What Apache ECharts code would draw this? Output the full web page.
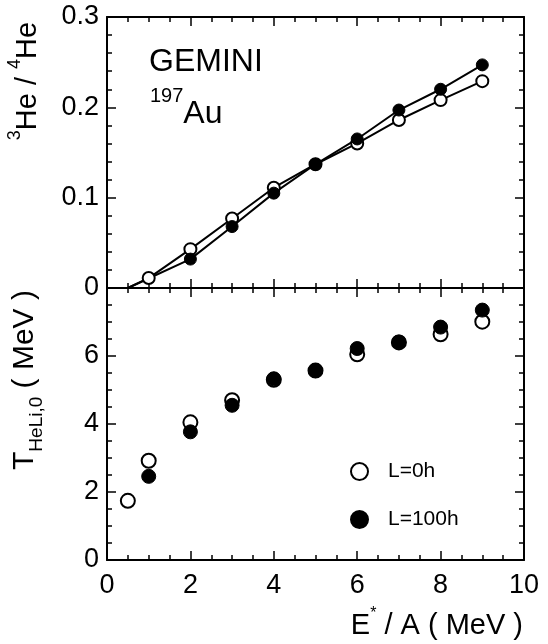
<!DOCTYPE html>
<html>
<head>
<meta charset="utf-8">
<script src="https://cdn.jsdelivr.net/npm/echarts@6/dist/echarts.min.js"></script>
<style>
html,body{margin:0;padding:0;background:#fff;}
#chart{width:548px;height:644px;}
</style>
</head>
<body>
<div id="chart"></div>
<script>
// ---- data ----
const eTop0 = [0.5, 1, 2, 3, 4, 5, 6, 7, 8, 9];
const ratioL0 = [0, 0.011, 0.043, 0.077, 0.111, 0.137, 0.160, 0.186, 0.208, 0.229];
const eTop100 = [0.5, 2, 3, 4, 5, 6, 7, 8, 9];
const ratioL100 = [0, 0.032, 0.068, 0.105, 0.137, 0.165, 0.197, 0.220, 0.247];
const eBot0 = [0.5, 1, 2, 3, 4, 5, 6, 7, 8, 9];
const tempL0 = [1.74, 2.92, 4.05, 4.70, 5.30, 5.57, 6.05, 6.40, 6.64, 7.01];
const eBot100 = [1, 2, 3, 4, 5, 6, 7, 8, 9];
const tempL100 = [2.46, 3.77, 4.55, 5.33, 5.57, 6.22, 6.41, 6.85, 7.35];
const legendNames = ['L=0h', 'L=100h'];

const FONT = "'Liberation Sans', Arial, Helvetica, sans-serif";

function pairs(xs, ys, hideFirst) {
  return xs.map((x, i) => {
    const d = { value: [x, ys[i]] };
    if (hideFirst && i === 0) d.symbol = 'none';
    return d;
  });
}

function xAx(grid, pos, showLabel) {
  return {
    type: 'value', gridIndex: grid, position: pos, min: 0, max: 10, interval: 2,
    axisLine: { show: true, onZero: false, lineStyle: { color: '#000', width: 2 } },
    axisTick: { show: true, inside: true, length: 9, lineStyle: { color: '#000', width: 1.5 } },
    minorTick: { show: true, splitNumber: 4, length: 5, lineStyle: { color: '#000', width: 1.5 } },
    splitLine: { show: false },
    axisLabel: { show: showLabel, color: '#000', fontSize: 27, fontFamily: FONT, margin: 12 }
  };
}
function yAx(grid, pos, min, max, interval, minorSplit, showLabel, fmt) {
  return {
    type: 'value', gridIndex: grid, position: pos, min: min, max: max, interval: interval,
    axisLine: { show: true, onZero: false, lineStyle: { color: '#000', width: 2 } },
    axisTick: { show: true, inside: true, length: 9, lineStyle: { color: '#000', width: 1.5 } },
    minorTick: { show: true, splitNumber: minorSplit, length: 5, lineStyle: { color: '#000', width: 1.5 } },
    splitLine: { show: false },
    axisLabel: { show: showLabel, color: '#000', fontSize: 27, fontFamily: FONT, margin: 8, formatter: fmt }
  };
}

const chart = echarts.init(document.getElementById('chart'), null, { renderer: 'canvas' });
const option = {
  backgroundColor: '#fff',
  animation: false,
  grid: [
    { left: 107, right: 24, top: 17, height: 271 },
    { left: 107, right: 24, top: 288, height: 272 }
  ],
  xAxis: [
    xAx(0, 'bottom', false),
    xAx(0, 'top', false),
    xAx(1, 'bottom', true),
    xAx(1, 'top', false)
  ],
  yAxis: [
    yAx(0, 'left', 0, 0.3, 0.1, 5, true, v => (Math.abs(v) < 1e-9 ? '0' : v.toFixed(1))),
    yAx(0, 'right', 0, 0.3, 0.1, 5, false),
    yAx(1, 'left', 0, 8, 2, 4, true, v => (v >= 8 ? '' : String(v))),
    yAx(1, 'right', 0, 8, 2, 4, false)
  ],
  legend: {
    data: legendNames,
    orient: 'vertical',
    left: 345, top: 456,
    itemWidth: 17, itemHeight: 17, itemGap: 27,
    itemStyle: { opacity: 1 },
    textStyle: { color: '#000', fontSize: 21, fontFamily: FONT, padding: [0, 0, 0, 15] }
  },
  series: [
    {
      name: 'top0', type: 'line', xAxisIndex: 0, yAxisIndex: 0,
      data: pairs(eTop0, ratioL0, true),
      symbol: 'circle', symbolSize: 12,
      lineStyle: { color: '#000', width: 2 },
      itemStyle: { color: '#fff', borderColor: '#000', borderWidth: 2, opacity: 1 }
    },
    {
      name: 'top100', type: 'line', xAxisIndex: 0, yAxisIndex: 0,
      data: pairs(eTop100, ratioL100, true),
      symbol: 'circle', symbolSize: 12,
      lineStyle: { color: '#000', width: 2 },
      itemStyle: { color: '#000', borderColor: '#000', borderWidth: 1, opacity: 1 }
    },
    {
      name: 'L=0h', type: 'scatter', xAxisIndex: 2, yAxisIndex: 2,
      data: pairs(eBot0, tempL0, false),
      symbol: 'circle', symbolSize: 14,
      itemStyle: { color: '#fff', borderColor: '#000', borderWidth: 2, opacity: 1 }
    },
    {
      name: 'L=100h', type: 'scatter', xAxisIndex: 2, yAxisIndex: 2,
      data: pairs(eBot100, tempL100, false),
      symbol: 'circle', symbolSize: 14,
      itemStyle: { color: '#000', borderColor: '#000', borderWidth: 1, opacity: 1 }
    }
  ],
  graphic: [
    {
      type: 'text', left: 149, top: 46,
      style: { text: 'GEMINI', fill: '#000', font: "32px 'Liberation Sans', Arial, sans-serif" }
    },
    {
      type: 'text', left: 150, top: 86,
      style: {
        text: '{sup|197}{main|Au}',
        rich: {
          sup: { fontSize: 20, fontFamily: FONT, fill: '#000', verticalAlign: 'top', lineHeight: 20 },
          main: { fontSize: 32, fontFamily: FONT, fill: '#000', verticalAlign: 'bottom', lineHeight: 44 }
        }
      }
    },
    {
      type: 'text', x: 24, y: 81, rotation: Math.PI / 2,
      style: {
        text: '{sup|3}{main|He / }{sup|4}{main|He}',
        align: 'center', verticalAlign: 'middle',
        rich: {
          sup: { fontSize: 18, fontFamily: FONT, fill: '#000', verticalAlign: 'top', lineHeight: 18 },
          main: { fontSize: 29, fontFamily: FONT, fill: '#000', verticalAlign: 'bottom', lineHeight: 36 }
        }
      }
    },
    {
      type: 'text', x: 28, y: 380, rotation: Math.PI / 2,
      style: {
        text: '{main|T}{sub|HeLi,0}{main| ( MeV )}',
        align: 'center', verticalAlign: 'middle',
        rich: {
          sub: { fontSize: 19, fontFamily: FONT, fill: '#000', verticalAlign: 'bottom', lineHeight: 19 },
          main: { fontSize: 30, fontFamily: FONT, fill: '#000', verticalAlign: 'top', lineHeight: 36 }
        }
      }
    },
    {
      type: 'text', right: 25, top: 606,
      style: {
        text: '{main|E}{sup|*}{main| / A ( MeV )}',
        rich: {
          sup: { fontSize: 16, fontFamily: FONT, fill: '#000', verticalAlign: 'top', lineHeight: 16 },
          main: { fontSize: 29, fontFamily: FONT, fill: '#000', verticalAlign: 'bottom', lineHeight: 34 }
        }
      }
    }
  ]
};
chart.setOption(option);
</script>
</body>
</html>
